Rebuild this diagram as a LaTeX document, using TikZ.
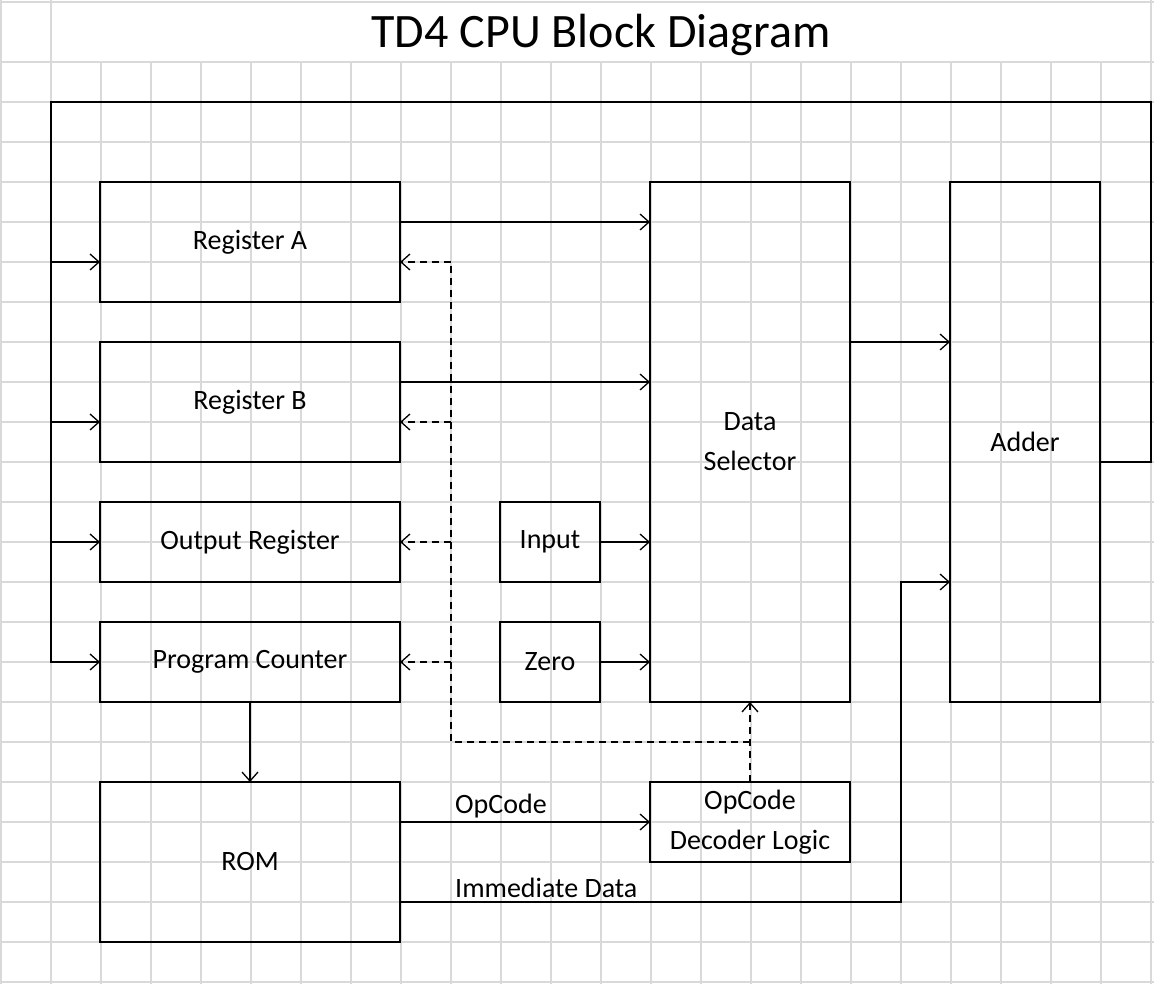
\documentclass[tikz,border=0pt]{standalone}
\usepackage{fontspec}
\setmainfont{Carlito}
\usetikzlibrary{arrows.meta}
\definecolor{gridgray}{RGB}{217,217,217}
\tikzset{
  blk/.style={draw,line width=1.3pt,rectangle,inner sep=0pt,outer sep=0pt,font=\fontsize{28}{34}\selectfont,align=center},
  lbl/.style={font=\fontsize{28}{34}\selectfont,inner sep=2pt},
  arr/.style={-{Straight Barb[length=9pt,width=16pt]},line width=1.3pt},
  darr/.style={arr,dash pattern=on 7pt off 5pt}
}
\begin{document}
\begin{tikzpicture}[x=1pt,y=-1pt]
\useasboundingbox (0,0) rectangle (1154,984);
% spreadsheet grid
\foreach \x in {1,51,...,1151} \draw[gridgray,line width=1.5pt] (\x,62) -- (\x,984);
\foreach \x in {1,51,1151} \draw[gridgray,line width=1.5pt] (\x,0) -- (\x,62);
\foreach \y in {2,62,102,...,982} \draw[gridgray,line width=1.5pt] (0,\y) -- (1154,\y);
\node[font=\fontsize{48}{56}\selectfont] (title) at (601,35) {TD4 CPU Block Diagram};

\node[blk,minimum width=300pt,minimum height=120pt] (rega) at (250,242) {Register A};
\node[blk,minimum width=300pt,minimum height=120pt] (regb) at (250,402) {Register B};
\node[blk,minimum width=300pt,minimum height=80pt] (outr) at (250,542) {Output Register};
\node[blk,minimum width=300pt,minimum height=80pt] (pc) at (250,662) {Program Counter};
\node[blk,minimum width=300pt,minimum height=160pt] (rom) at (250,862) {ROM};
\node[blk,minimum width=100pt,minimum height=80pt] (inp) at (550,542) {Input};
\node[blk,minimum width=100pt,minimum height=80pt] (zero) at (550,662) {Zero};
\node[blk,minimum width=200pt,minimum height=520pt] (ds) at (750,442) {Data\\[6pt]Selector};
\node[blk,minimum width=150pt,minimum height=520pt] (add) at (1025,442) {Adder};
\node[blk,minimum width=200pt,minimum height=80pt] (dec) at (750,822) {OpCode\\[6pt]Decoder Logic};

% feedback from adder
\coordinate (fbr) at (1151,102);
\coordinate (fbl) at (51,102);
\draw[line width=1.3pt] (add.east) ++(0,20) -| (fbr) -- (fbl) |- (pc.west);
\draw[arr] (rega.west) ++(0,20) coordinate (fa) -- (fa -| fbl) (fa -| fbl) -- (fa);
\draw[arr] (regb.west) ++(0,20) coordinate (fb) -- (fb -| fbl) (fb -| fbl) -- (fb);
\foreach \n in {outr,pc} \draw[arr] (fbl |- \n.west) -- (\n.west);

% data paths
\draw[arr] (rega.east) ++(0,-20) coordinate (a1) -- (a1 -| ds.west);
\draw[arr] (regb.east) ++(0,-20) coordinate (b1) -- (b1 -| ds.west);
\draw[arr] (inp) -- (inp -| ds.west);
\draw[arr] (zero) -- (zero -| ds.west);
\draw[arr] (ds.east) ++(0,-100) coordinate (d1) -- (d1 -| add.west);
\draw[arr] (pc) -- (rom);
\draw[arr] (rom.east) ++(0,-40) coordinate (r1) -- (r1 -| dec.west);
\node[lbl,anchor=south west] (opl) at (453,820) {OpCode};
\coordinate (imm) at (901,582);
\draw[arr] (rom.east) ++(0,40) coordinate (r2) -| (imm) -- (add.west |- imm);
\node[lbl,anchor=south west] (iml) at (453,900) {Immediate Data};

% control lines
\coordinate (cl) at (451,742);
\coordinate (ca) at ([yshift=-20pt]rega.east);
\coordinate (cb) at ([yshift=-20pt]regb.east);
\draw[darr] (dec.north) -- (ds.south);
\draw[dash pattern=on 7pt off 5pt,line width=1.3pt] (dec.north) ++(0,-40) -- (cl) -- (cl |- ca);
\draw[darr] (ca -| cl) -- (ca);
\draw[darr] (cb -| cl) -- (cb);
\foreach \n in {outr,pc} \draw[darr] (cl |- \n.east) -- (\n.east);
\end{tikzpicture}
\end{document}
